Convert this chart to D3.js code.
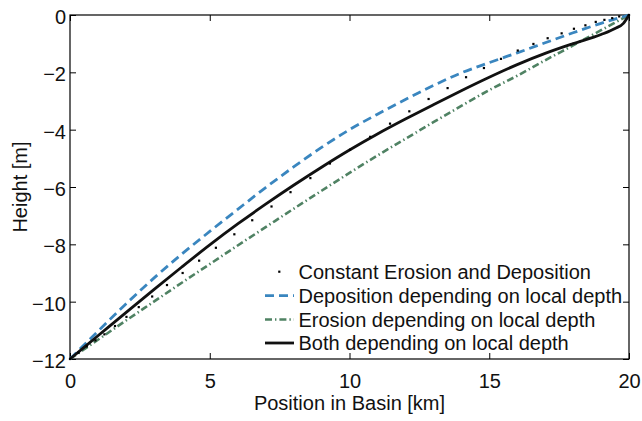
<!DOCTYPE html>
<html>
<head>
<meta charset="utf-8">
<script src="https://cdn.jsdelivr.net/npm/d3@7"></script>
<style>
  html, body { margin: 0; padding: 0; background: #fff; }
  svg { display: block; font-family: "Liberation Sans", Arial, Helvetica, sans-serif; }
</style>
</head>
<body>
<svg id="chart" width="642" height="421"></svg>
<script>
// ---- data ----
const xTicks = [0, 5, 10, 15, 20];
const yTicks = [-12, -10, -8, -6, -4, -2, 0];

const depositionX = [0,1,2,3,4,5,6,7,8,9,10,11,12,13,14,15,16,17,18,19,20];
const depositionY = [-12,-11.03,-10.08,-9.18,-8.34,-7.55,-6.78,-6.02,-5.3,-4.62,-4.0,-3.46,-2.95,-2.46,-2.02,-1.66,-1.32,-0.97,-0.62,-0.29,0];

const erosionX = [0,1,2,3,4,5,6,7,8,9,10,11,12,13,14,15,16,17,18,19,20];
const erosionY = [-12,-11.33,-10.66,-10.0,-9.34,-8.69,-8.04,-7.4,-6.76,-6.13,-5.51,-4.9,-4.32,-3.74,-3.17,-2.62,-2.12,-1.58,-1.06,-0.53,0];

const bothX = [0,1,2,3,4,5,6,7,8,9,10,11,12,13,14,15,16,17,18,19,19.5,19.8,20];
const bothY = [-12,-11.19,-10.38,-9.58,-8.79,-8.02,-7.29,-6.6,-5.94,-5.31,-4.71,-4.15,-3.63,-3.13,-2.64,-2.17,-1.73,-1.34,-1.0,-0.68,-0.47,-0.29,0];

const constantX = [0,0.3,0.6,0.91,1.23,1.61,2.02,2.46,2.94,3.47,4.03,4.62,5.22,5.88,6.52,7.21,7.89,8.6,9.3,10.02,10.74,11.45,12.14,12.83,13.51,14.17,14.81,15.42,16.02,16.58,17.09,17.59,18.03,18.44,18.81,19.12,19.4,19.65,20];
const constantY = [-12,-11.78,-11.56,-11.35,-11.14,-10.85,-10.53,-10.19,-9.82,-9.42,-9.0,-8.57,-8.12,-7.65,-7.16,-6.68,-6.18,-5.69,-5.18,-4.7,-4.25,-3.79,-3.36,-2.93,-2.55,-2.17,-1.85,-1.53,-1.24,-1.01,-0.81,-0.64,-0.48,-0.36,-0.24,-0.17,-0.11,-0.05,0];

const legendLabels = [
  "Constant Erosion and Deposition",
  "Deposition depending on local depth",
  "Erosion depending on local depth",
  "Both depending on local depth"
];

// ---- layout ----
const svg = d3.select("#chart");
const L = 70, R = 629, T = 15, B = 359;
const x = d3.scaleLinear().domain([0, 20]).range([L, R]);
const y = d3.scaleLinear().domain([-12, 0]).range([B, T]);

svg.append("rect").attr("width", 642).attr("height", 421).attr("fill", "#fff");

const fontSize = 20;

// axes with inward ticks
const gB = svg.append("g").attr("transform", `translate(0,${B})`)
  .call(d3.axisBottom(x).tickValues(xTicks).tickSizeInner(-6).tickSizeOuter(0).tickPadding(15));
const gT = svg.append("g").attr("transform", `translate(0,${T})`)
  .call(d3.axisTop(x).tickValues(xTicks).tickSizeInner(-6).tickSizeOuter(0).tickFormat(""));
const gLft = svg.append("g").attr("transform", `translate(${L},0)`)
  .call(d3.axisLeft(y).tickValues(yTicks).tickSizeInner(-6).tickSizeOuter(0).tickPadding(4));
const gRt = svg.append("g").attr("transform", `translate(${R},0)`)
  .call(d3.axisRight(y).tickValues(yTicks).tickSizeInner(-6).tickSizeOuter(0).tickFormat(""));

[gB, gT, gLft, gRt].forEach(g => {
  g.select(".domain").remove();
  g.selectAll(".tick line").attr("stroke", "#000").attr("stroke-width", 1);
  g.selectAll("text").attr("fill", "#111").style("font-size", fontSize + "px")
    .style("font-family", "'Liberation Sans', Arial, Helvetica, sans-serif");
});
gLft.selectAll("text").attr("dy", "0.42em");

// box
svg.append("rect").attr("x", L).attr("y", T).attr("width", R - L).attr("height", B - T)
  .attr("fill", "none").attr("stroke", "#000").attr("stroke-width", 1.2);

// axis labels
svg.append("text").attr("x", (L + R) / 2).attr("y", 410).attr("text-anchor", "middle")
  .style("font-size", fontSize + "px").attr("fill", "#111").text("Position in Basin [km]");
svg.append("text").attr("transform", `translate(26.5,${(T + B) / 2}) rotate(-90)`)
  .attr("text-anchor", "middle").style("font-size", fontSize + "px").attr("fill", "#111")
  .text("Height [m]");

// series
const line = d3.line().x(d => x(d[0])).y(d => y(d[1])).curve(d3.curveMonotoneX);
const zip = (a, b) => a.map((v, i) => [v, b[i]]);

const plot = svg.append("g");
const styles = {
  dep: { stroke: "#3a86bf", width: 2.8, dash: "9,5" },
  ero: { stroke: "#4f8263", width: 2.6, dash: "7,3,1.4,3" },
  both: { stroke: "#111", width: 2.8, dash: null }
};

plot.append("path").datum(zip(erosionX, erosionY)).attr("d", line)
  .attr("fill", "none").attr("stroke", styles.ero.stroke).attr("stroke-width", styles.ero.width)
  .attr("stroke-dasharray", styles.ero.dash);
plot.append("path").datum(zip(depositionX, depositionY)).attr("d", line)
  .attr("fill", "none").attr("stroke", styles.dep.stroke).attr("stroke-width", styles.dep.width)
  .attr("stroke-dasharray", styles.dep.dash);
plot.append("path").datum(zip(bothX, bothY)).attr("d", line)
  .attr("fill", "none").attr("stroke", styles.both.stroke).attr("stroke-width", styles.both.width);

plot.selectAll("rect.dot").data(zip(constantX, constantY)).enter().append("rect")
  .attr("class", "dot")
  .attr("x", d => x(d[0]) - 1.1).attr("y", d => y(d[1]) - 1.1)
  .attr("width", 2.2).attr("height", 2.2).attr("fill", "#000");

// legend
const legRows = [271.7, 295.7, 319.5, 343];
const lg = svg.append("g");
legendLabels.forEach((lab, i) => {
  const cy = legRows[i];
  if (i === 0) {
    lg.append("rect").attr("x", 278.2).attr("y", cy - 1.1).attr("width", 2.2).attr("height", 2.2).attr("fill", "#000");
  } else {
    const s = i === 1 ? styles.dep : i === 2 ? styles.ero : styles.both;
    lg.append("line").attr("x1", 265).attr("x2", 294).attr("y1", cy).attr("y2", cy)
      .attr("stroke", s.stroke).attr("stroke-width", s.width)
      .attr("stroke-dasharray", s.dash);
  }
  lg.append("text").attr("x", 298.5).attr("y", cy + 7).style("font-size", fontSize + "px")
    .attr("fill", "#111").text(lab);
});
</script>
</body>
</html>
